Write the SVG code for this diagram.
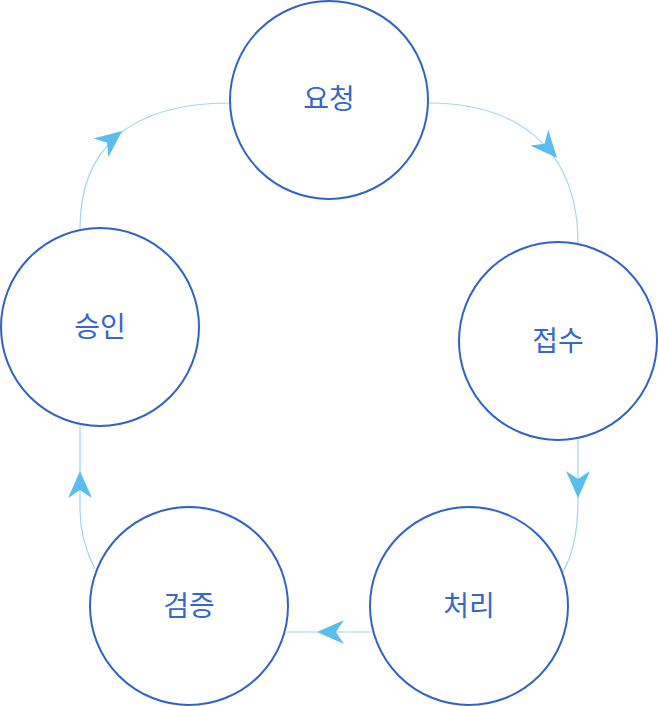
<svg xmlns="http://www.w3.org/2000/svg" xmlns:xlink="http://www.w3.org/1999/xlink" width="658" height="706" viewBox="0 0 658 706">
<style>
.node circle{fill:#ffffff;stroke:#2f63c6;stroke-width:2}
.node text{fill:#3568c8;font-family:"Noto Sans CJK KR","Noto Sans",sans-serif;font-size:28px;text-anchor:middle;dominant-baseline:central}
.conn path.line{fill:none;stroke:#9fd6f2;stroke-width:1.2}
.arr{fill:#5bbdee}
</style>
<defs>
<path id="arrow" class="arr" d="M0,0 L-27,-12 L-19,0 L-27,12 Z"/>
</defs>
<rect width="658" height="706" fill="#ffffff"/>
<g id="connectors" class="conn">
<path class="line" d="M428,103 C530,103 578,160 578,243"/>
<path class="line" d="M578,440 L578,500 Q578,545 563,572"/>
<path class="line" d="M371,632 L287,632"/>
<path class="line" d="M95,569 Q80,540 80,510 L80,426"/>
<path class="line" d="M80,228 C80,150 128,103 230,103"/>
<use xlink:href="#arrow" transform="translate(557,158) rotate(49)"/>
<use xlink:href="#arrow" transform="translate(578,498) rotate(90)"/>
<use xlink:href="#arrow" transform="translate(317,632) rotate(180)"/>
<use xlink:href="#arrow" transform="translate(80,471) rotate(-90)"/>
<use xlink:href="#arrow" transform="translate(122,131) rotate(-38.5)"/>
</g>
<g id="node-request" class="node"><circle cx="329" cy="100" r="99"/><text x="329" y="97">요청</text></g>
<g id="node-receive" class="node"><circle cx="558" cy="341" r="99"/><text x="558" y="339">접수</text></g>
<g id="node-process" class="node"><circle cx="469" cy="606" r="99"/><text x="469" y="604">처리</text></g>
<g id="node-verify" class="node"><circle cx="189" cy="606" r="99"/><text x="189" y="604">검증</text></g>
<g id="node-approve" class="node"><circle cx="100" cy="327" r="99"/><text x="100" y="325">승인</text></g>
</svg>
